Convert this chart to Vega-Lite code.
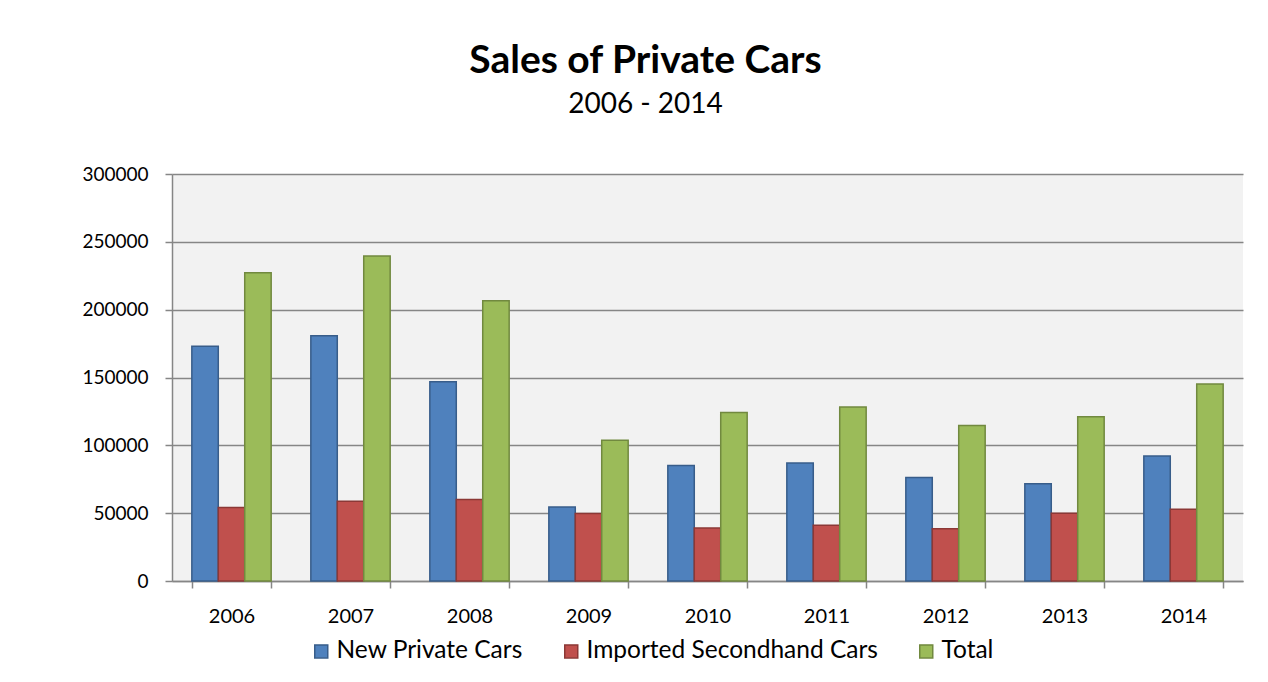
{
  "$schema": "https://vega.github.io/schema/vega-lite/v6.json",
  "width": 1071,
  "height": 407,
  "autosize": {"type": "none"},
  "padding": {"left": 172, "top": 174, "right": 25, "bottom": 101},
  "background": "white",
  "config": {
    "font": "Lato",
    "view": {"fill": "#F2F2F2", "stroke": null}
  },
  "title": {
    "text": "Sales of Private Cars",
    "subtitle": "2006 - 2014",
    "fontSize": 39,
    "fontWeight": "bold",
    "color": "black",
    "subtitleFontSize": 28,
    "subtitleColor": "black",
    "subtitlePadding": 10,
    "anchor": "middle",
    "dx": -62,
    "offset": 46
  },
  "data": {
    "values": [
      {"year": "2006", "series": "New Private Cars", "value": 173100},
      {"year": "2006", "series": "Imported Secondhand Cars", "value": 54100},
      {"year": "2006", "series": "Total", "value": 227200},
      {"year": "2007", "series": "New Private Cars", "value": 180700},
      {"year": "2007", "series": "Imported Secondhand Cars", "value": 58800},
      {"year": "2007", "series": "Total", "value": 239500},
      {"year": "2008", "series": "New Private Cars", "value": 146800},
      {"year": "2008", "series": "Imported Secondhand Cars", "value": 60000},
      {"year": "2008", "series": "Total", "value": 206500},
      {"year": "2009", "series": "New Private Cars", "value": 54600},
      {"year": "2009", "series": "Imported Secondhand Cars", "value": 49700},
      {"year": "2009", "series": "Total", "value": 103800},
      {"year": "2010", "series": "New Private Cars", "value": 85100},
      {"year": "2010", "series": "Imported Secondhand Cars", "value": 39100},
      {"year": "2010", "series": "Total", "value": 124200},
      {"year": "2011", "series": "New Private Cars", "value": 87000},
      {"year": "2011", "series": "Imported Secondhand Cars", "value": 41100},
      {"year": "2011", "series": "Total", "value": 128300},
      {"year": "2012", "series": "New Private Cars", "value": 76200},
      {"year": "2012", "series": "Imported Secondhand Cars", "value": 38600},
      {"year": "2012", "series": "Total", "value": 114600},
      {"year": "2013", "series": "New Private Cars", "value": 71600},
      {"year": "2013", "series": "Imported Secondhand Cars", "value": 49900},
      {"year": "2013", "series": "Total", "value": 121000},
      {"year": "2014", "series": "New Private Cars", "value": 92200},
      {"year": "2014", "series": "Imported Secondhand Cars", "value": 52900},
      {"year": "2014", "series": "Total", "value": 145300}
    ]
  },
  "mark": {"type": "bar", "strokeWidth": 1.5},
  "encoding": {
    "x": {
      "field": "year",
      "type": "nominal",
      "scale": {"paddingInner": 0.3333, "paddingOuter": 0.1667},
      "axis": {
        "title": null,
        "labelAngle": 0,
        "labelFontSize": 20,
        "labelColor": "black",
        "labelPadding": 18,
        "tickBand": "extent",
        "tickSize": 7,
        "tickColor": "#868686",
        "tickWidth": 1.5,
        "domainColor": "#868686",
        "domainWidth": 1.5
      }
    },
    "xOffset": {
      "field": "series",
      "type": "nominal",
      "sort": ["New Private Cars", "Imported Secondhand Cars", "Total"],
      "scale": {"paddingInner": 0, "paddingOuter": 0}
    },
    "y": {
      "field": "value",
      "type": "quantitative",
      "scale": {"domain": [0, 300000], "nice": false},
      "axis": {
        "title": null,
        "values": [0, 50000, 100000, 150000, 200000, 250000, 300000],
        "format": "d",
        "labelFontSize": 19,
        "labelColor": "black",
        "labelPadding": 17,
        "tickSize": 7,
        "tickColor": "#868686",
        "tickWidth": 1.5,
        "domainColor": "#868686",
        "domainWidth": 1.5,
        "grid": true,
        "gridColor": "#868686",
        "gridWidth": 1.5
      }
    },
    "color": {
      "field": "series",
      "type": "nominal",
      "sort": ["New Private Cars", "Imported Secondhand Cars", "Total"],
      "scale": {
        "domain": ["New Private Cars", "Imported Secondhand Cars", "Total"],
        "range": ["#4F81BD", "#C0504D", "#9BBB59"]
      },
      "legend": {
        "title": null,
        "orient": "none",
        "legendX": 137,
        "legendY": 465,
        "direction": "horizontal",
        "symbolType": "square",
        "symbolSize": 169,
        "symbolStrokeWidth": 1.5,
        "labelFontSize": 24.5,
        "labelColor": "black",
        "labelLimit": 0,
        "labelOffset": 3,
        "columnPadding": 36
      }
    },
    "stroke": {
      "field": "series",
      "type": "nominal",
      "sort": ["New Private Cars", "Imported Secondhand Cars", "Total"],
      "scale": {
        "domain": ["New Private Cars", "Imported Secondhand Cars", "Total"],
        "range": ["#385D8A", "#8C3836", "#71893F"]
      }
    }
  }
}
